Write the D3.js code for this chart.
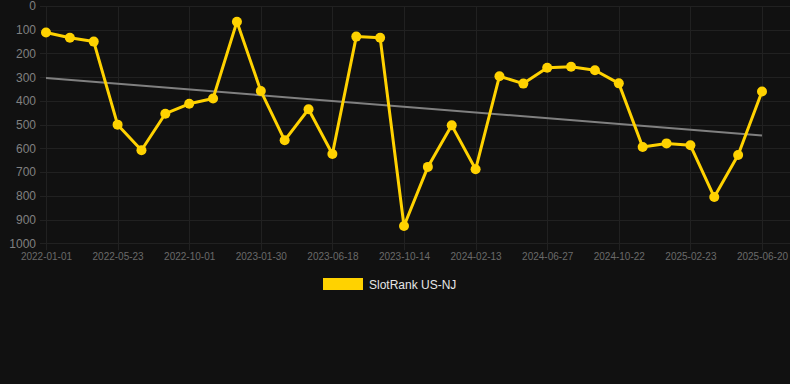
<!DOCTYPE html>
<html>
<head>
<meta charset="utf-8">
<script src="https://cdn.jsdelivr.net/npm/d3@7/dist/d3.min.js"></script>
<style>
    html, body { margin: 0; padding: 0; background: #111111; }
    #chart { width: 790px; height: 384px; }
    text { font-family: "Liberation Sans", Arial, sans-serif; }
</style>
</head>
<body>
<div id="chart"></div>
<script>
// Dates of each ranking snapshot (only every third one is labelled on the axis)
const dates = [
    "2022-01-01", "2022-02-17", "2022-04-05", "2022-05-23", "2022-07-05", "2022-08-18",
    "2022-10-01", "2022-11-10", "2022-12-20", "2023-01-30", "2023-03-17", "2023-05-02",
    "2023-06-18", "2023-07-27", "2023-09-05", "2023-10-14", "2023-11-25", "2024-01-04",
    "2024-02-13", "2024-03-29", "2024-05-13", "2024-06-27", "2024-08-08", "2024-09-15",
    "2024-10-22", "2024-12-01", "2025-01-12", "2025-02-23", "2025-04-01", "2025-05-10",
    "2025-06-20"
];

// SlotRank US-NJ (lower is better, axis is reversed)
const ranks = [
    112, 134, 150, 500, 608, 454, 412, 390, 66, 358, 566, 435, 624, 129, 134, 927,
    678, 503, 688, 296, 327, 260, 256, 271, 326, 594, 579, 587, 805, 628, 360
];

const yTicks = [0, 100, 200, 300, 400, 500, 600, 700, 800, 900, 1000];
const seriesName = "SlotRank US-NJ";

const width = 790, height = 384;
const margin = {top: 6, right: 28, bottom: 141, left: 46};
const yellow = "#ffd200";

const svg = d3.select("#chart").append("svg")
    .attr("width", width)
    .attr("height", height);

const xScale = d3.scalePoint()
    .domain(dates)
    .range([margin.left, width - margin.right]);

const yScale = d3.scaleLinear()
    .domain([0, 1000])
    .range([margin.top, height - margin.bottom + 0.3]);

const labelled = dates.filter((d, i) => i % 3 === 0);

// grid
const grid = svg.append("g").attr("stroke", "#212121").attr("stroke-width", 1);
grid.selectAll(".hgrid")
    .data(yTicks)
    .enter().append("line")
    .attr("x1", margin.left - 6)
    .attr("x2", width)
    .attr("y1", d => Math.round(yScale(d)) + 0.5)
    .attr("y2", d => Math.round(yScale(d)) + 0.5);
grid.selectAll(".vgrid")
    .data(labelled)
    .enter().append("line")
    .attr("x1", d => Math.round(xScale(d)) + 0.5)
    .attr("x2", d => Math.round(xScale(d)) + 0.5)
    .attr("y1", margin.top)
    .attr("y2", yScale(1000) + 7);

// y axis labels
const yAxis = d3.axisLeft(yScale).tickValues(yTicks).tickFormat(d3.format("d"))
    .tickSize(0).tickPadding(0);
svg.append("g")
    .attr("transform", `translate(${margin.left - 10},0)`)
    .call(yAxis)
    .call(g => g.select(".domain").remove())
    .call(g => g.selectAll("text")
        .attr("fill", "#808080")
        .attr("font-size", "12px")
        .attr("font-family", "Liberation Sans, Arial, sans-serif"));

// x axis labels
const xAxis = d3.axisBottom(xScale).tickValues(labelled).tickSize(0).tickPadding(0);
svg.append("g")
    .attr("transform", `translate(0,${yScale(1000) + 10})`)
    .call(xAxis)
    .call(g => g.select(".domain").remove())
    .call(g => g.selectAll("text")
        .attr("fill", "#6a6a6a")
        .attr("font-size", "10px")
        .attr("font-family", "Liberation Sans, Arial, sans-serif"));

// linear trend (least squares over index)
const n = ranks.length;
const meanX = (n - 1) / 2;
const meanY = d3.mean(ranks);
const slope = d3.sum(ranks, (v, i) => (i - meanX) * (v - meanY)) /
    d3.sum(ranks, (v, i) => (i - meanX) * (i - meanX));
const trend = [0, n - 1].map(i => ({date: dates[i], v: meanY + slope * (i - meanX)}));

svg.append("path")
    .datum(trend)
    .attr("fill", "none")
    .attr("stroke", "#808080")
    .attr("stroke-width", 2)
    .attr("d", d3.line().x(d => xScale(d.date)).y(d => yScale(d.v)));

// series
const points = dates.map((d, i) => ({date: d, v: ranks[i]}));
svg.append("path")
    .datum(points)
    .attr("fill", "none")
    .attr("stroke", yellow)
    .attr("stroke-width", 3)
    .attr("stroke-linejoin", "round")
    .attr("d", d3.line().x(d => xScale(d.date)).y(d => yScale(d.v)));

svg.selectAll(".pt")
    .data(points)
    .enter().append("circle")
    .attr("cx", d => xScale(d.date))
    .attr("cy", d => yScale(d.v))
    .attr("r", 5)
    .attr("fill", yellow);

// legend
const legend = svg.append("g").attr("transform", "translate(323,278)");
legend.append("rect")
    .attr("width", 40)
    .attr("height", 12)
    .attr("fill", yellow);
legend.append("text")
    .attr("x", 46)
    .attr("y", 10.5)
    .attr("fill", "#e6e6e6")
    .attr("font-size", "12px")
    .text(seriesName);
</script>
</body>
</html>
